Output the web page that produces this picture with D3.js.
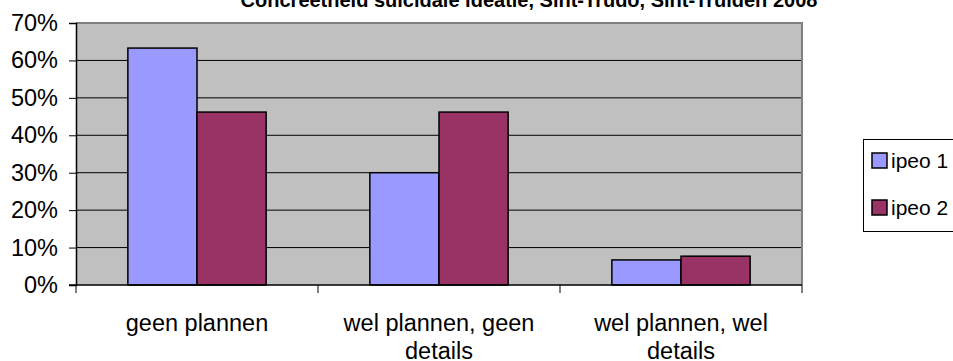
<!DOCTYPE html>
<html lang="nl">
<head>
    <meta charset="UTF-8">
    <title>Concreetheid suicidale ideatie</title>
    <style>
        body { margin: 0; background: #fff; }
        svg text { font-family: Arial, 'Liberation Sans', sans-serif; fill: #000; }
    </style>
</head>
<body>

    <svg id="svg" width="953" height="361"></svg>

    <script src="https://d3js.org/d3.v7.min.js"></script>
    <script>
        // data
        const categories = [['geen plannen'], ['wel plannen, geen', 'details'], ['wel plannen, wel', 'details']]
        const seriesNames = ['ipeo 1', 'ipeo 2']
        const ipeo1 = [0.633, 0.300, 0.067]
        const ipeo2 = [0.462, 0.462, 0.077]
        const yTicks = [0, 0.1, 0.2, 0.3, 0.4, 0.5, 0.6, 0.7]
        const colors = ['#9999FF', '#993366']

        const title = 'Concreetheid suicidale ideatie, Sint-Trudo, Sint-Truiden 2008'

        const plotLeft = 76, plotRight = 802, plotTop = 23, plotBottom = 285

        const svg = d3.select('#svg')

        const xScale = d3.scaleBand()
            .domain(d3.range(categories.length))
            .range([plotLeft, plotRight])

        // excel gap width 150%
        const inner = d3.scaleBand()
            .domain(d3.range(seriesNames.length))
            .range([0, xScale.bandwidth()])
            .paddingInner(0)
            .paddingOuter(0.75)

        const yScale = d3.scaleLinear()
            .domain([0, 0.7])
            .range([plotBottom, plotTop])

        // plot background
        svg.append('rect')
            .attr('x', plotLeft)
            .attr('y', plotTop)
            .attr('width', plotRight - plotLeft)
            .attr('height', plotBottom - plotTop)
            .attr('fill', '#C0C0C0')

        // gridlines
        svg.append('g')
            .selectAll('line')
            .data(yTicks.filter(d => d > 0 && d < 0.7))
            .enter()
            .append('line')
            .attr('x1', plotLeft)
            .attr('x2', plotRight)
            .attr('y1', d => yScale(d))
            .attr('y2', d => yScale(d))
            .attr('stroke', '#000')
            .attr('stroke-width', 1)

        // top and right border
        svg.append('path')
            .attr('d', d3.line()([[plotLeft, plotTop], [plotRight, plotTop], [plotRight, plotBottom]]))
            .attr('fill', 'none')
            .attr('stroke', '#808080')
            .attr('stroke-width', 2)

        // bars
        const values = [ipeo1, ipeo2]
        values.forEach((vals, s) => {
            svg.append('g')
                .selectAll('rect')
                .data(vals)
                .enter()
                .append('rect')
                .attr('x', (d, i) => xScale(i) + inner(s))
                .attr('y', d => yScale(d))
                .attr('width', inner.bandwidth())
                .attr('height', d => yScale(0) - yScale(d))
                .attr('fill', colors[s])
                .attr('stroke', '#000')
                .attr('stroke-width', 1.5)
        })

        // y axis
        const yAxis = svg.append('g')
            .attr('transform', `translate(${plotLeft},0)`)
            .call(d3.axisLeft(yScale).tickValues(yTicks).tickFormat(d3.format('.0%')).tickSize(7).tickPadding(11))
        yAxis.select('.domain').attr('stroke', '#000').attr('stroke-width', 1.5)
        yAxis.selectAll('.tick line').attr('stroke', '#000')
        yAxis.selectAll('text')
            .style('font-size', '23.5px')
            .attr('fill', '#000')

        // x axis, ticks at category boundaries
        const xAxis = svg.append('g')
        xAxis.append('line')
            .attr('x1', plotLeft - 7).attr('x2', plotRight)
            .attr('y1', plotBottom).attr('y2', plotBottom)
            .attr('stroke', '#000')
            .attr('stroke-width', 1.5)
        xAxis.selectAll('.xt')
            .data(d3.range(categories.length + 1))
            .enter()
            .append('line')
            .attr('x1', d => d < categories.length ? xScale(d) : plotRight)
            .attr('x2', d => d < categories.length ? xScale(d) : plotRight)
            .attr('y1', plotBottom)
            .attr('y2', plotBottom + 8)
            .attr('stroke', '#000')

        const labels = xAxis.selectAll('.xl')
            .data(categories)
            .enter()
            .append('text')
            .attr('text-anchor', 'middle')
            .style('font-size', '23.5px')
        labels.selectAll('tspan')
            .data((d, i) => d.map(t => ({ t, i })))
            .enter()
            .append('tspan')
            .attr('x', d => xScale(d.i) + xScale.bandwidth() / 2)
            .attr('y', (d, j) => 331 + j * 28)
            .text(d => d.t)

        // title (cut off at the top edge, as in the original)
        svg.append('text')
            .attr('x', 529)
            .attr('y', 7)
            .attr('text-anchor', 'middle')
            .style('font-size', '20px')
            .style('font-weight', 'bold')
            .text(title)

        // legend
        const legend = svg.append('g')
        legend.append('rect')
            .attr('x', 863.5)
            .attr('y', 139.5)
            .attr('width', 100)
            .attr('height', 92)
            .attr('fill', '#fff')
            .attr('stroke', '#000')
        const items = legend.selectAll('.li')
            .data(seriesNames)
            .enter()
            .append('g')
            .attr('transform', (d, i) => `translate(872,${153 + i * 47})`)
        items.append('rect')
            .attr('width', 15)
            .attr('height', 15)
            .attr('fill', (d, i) => colors[i])
            .attr('stroke', '#000')
            .attr('stroke-width', 1.5)
        items.append('text')
            .attr('x', 19)
            .attr('y', 15)
            .style('font-size', '21px')
            .text(d => d)
    </script>
</body>
</html>
